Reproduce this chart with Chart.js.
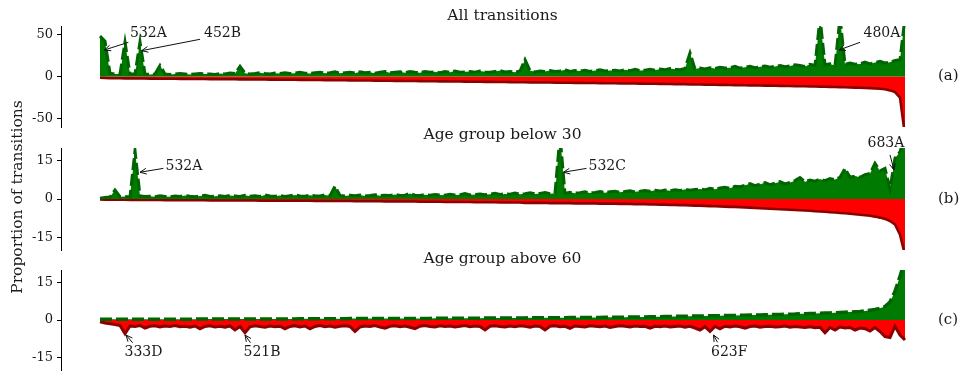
<!DOCTYPE html>
<html><head><meta charset="utf-8">
<script src="https://cdn.jsdelivr.net/npm/chart.js@4.4.0/dist/chart.umd.min.js"></script>
<style>
html,body{margin:0;padding:0;background:#fff;}
#wrap{position:relative;width:961px;height:373px;overflow:hidden;}
#wrap canvas{position:absolute;left:0;top:0;}
</style></head><body>
<div id="wrap">
<canvas id="ca" width="961" height="373"></canvas>
<canvas id="cb" width="961" height="373"></canvas>
<canvas id="cc" width="961" height="385"></canvas>
</div>
<script>
// ---- data (one value per transition, ordered as in the figure) ----
const GA = [48,42,4,3,3,41,3,3,41,3,
 2.5,3,13,3,2.5,3,3.5,3,2.5,3,
 3.5,3,3,2.5,3.5,3,4,3.5,12,4,
 3,3.5,4.5,3.5,3,4,3.5,4.5,3.5,4,
 5,4,3.5,4.5,5,4,4.5,5.5,4,4.5,
 5,4,5.5,4.5,5,4,5,6,4.5,5,
 5.5,4.5,6,5,4.5,6,5,5.5,4.5,6,
 5,6.5,5,5.5,6,5,6.5,5.5,5,6,
 7,5.5,6,5,6.5,20,7,5.5,6.5,6,
 7,6,6.5,8,6,7,6.5,7.5,6,7,
 8,6.5,7,7.5,6.5,8,7,8.5,7,7.5,
 8.5,7.5,9,8,9.5,8.5,8,9.5,28,9,
 10,9,10.5,9.5,11,10,10.5,12,10,11,
 12,10.5,11.5,12.5,11,12,13,11.5,12.5,14,
 13,12,14.5,13,70,14,15,13,70,14.5,
 16,14.5,15,17,15,16.5,18,16,17,19,
 20,70];
const RA = [-1.5,-1.8,-2,-2,-2.1,-2.2,-2.2,-2.3,-2.4,-2.4,
 -2.5,-2.5,-2.6,-2.6,-2.7,-2.7,-2.8,-2.8,-2.9,-2.9,
 -3,-3,-3.1,-3.1,-3.2,-3.2,-3.3,-3.3,-3.4,-3.4,
 -3.5,-3.5,-3.6,-3.6,-3.7,-3.7,-3.8,-3.8,-3.9,-3.9,
 -4,-4,-4.1,-4.1,-4.2,-4.3,-4.3,-4.4,-4.5,-4.5,
 -4.6,-4.6,-4.7,-4.8,-4.8,-4.9,-5,-5,-5.1,-5.2,
 -5.2,-5.3,-5.4,-5.4,-5.5,-5.6,-5.6,-5.7,-5.8,-5.8,
 -5.9,-6,-6,-6.1,-6.2,-6.2,-6.3,-6.4,-6.4,-6.5,
 -6.6,-6.6,-6.7,-6.8,-6.8,-6.9,-7,-7,-7.1,-7.2,
 -7.2,-7.3,-7.4,-7.4,-7.5,-7.6,-7.6,-7.7,-7.8,-7.8,
 -7.9,-8,-8,-8.1,-8.2,-8.3,-8.3,-8.4,-8.5,-8.6,
 -8.6,-8.7,-8.8,-8.9,-9,-9,-9.1,-9.2,-9.3,-9.4,
 -9.5,-9.6,-9.7,-9.8,-9.9,-10,-10.1,-10.2,-10.3,-10.4,
 -10.5,-10.6,-10.7,-10.8,-10.9,-11,-11.1,-11.2,-11.3,-11.4,
 -11.5,-11.6,-11.8,-11.9,-12,-12.2,-12.3,-12.5,-12.6,-12.8,
 -13,-13.2,-13.4,-13.6,-13.8,-14.1,-14.5,-15.2,-16.5,-18.5,
 -25,-70];
const GB = [0.3,0.6,0.8,3.5,0.9,1,0.8,19,1.2,1,
 1.1,0.9,1.3,1,0.9,1.2,1,1.4,1.1,0.9,
 1.2,1.5,1,1.1,1.3,1,1.4,1.2,1,1.5,
 1.1,1.3,1,1.6,1.2,1.1,1.4,1,1.3,1.6,
 1.2,1.1,1.5,1.3,1.2,1.6,1.3,5,1.4,1.2,
 1.5,1.3,1.6,1.2,1.4,1.7,1.3,1.5,1.4,1.8,
 1.4,1.5,2.2,1.5,1.4,1.7,1.5,1.8,1.6,1.5,
 1.9,1.6,1.7,2.1,1.6,1.8,2,1.7,1.9,2.2,
 1.8,2,1.9,2.3,1.9,2.1,2.4,2,2.2,2.5,
 2.1,2.3,25,2.2,2.6,2.3,2.5,2.8,2.4,2.6,
 2.9,2.5,2.8,3,2.6,2.9,3.2,2.8,3,3.3,
 3,3.4,3.1,3.5,3.2,3.6,3.3,3.8,3.4,3.7,
 3.9,3.6,4.2,3.8,4.3,4.6,4.2,5,4.8,5.4,
 6,5.2,5.8,6.4,5.6,6.2,6.8,5.9,6.5,7.2,
 8.4,6.8,7.4,7,7.8,7.2,8,7.6,8.5,12,
 8.5,9,8.5,9.5,10,14,11,12,4,16,
 18.5,25];
const RB = [-0.2,-0.3,-0.3,-0.3,-0.3,-0.3,-0.4,-0.4,-0.4,-0.4,
 -0.4,-0.4,-0.4,-0.5,-0.5,-0.5,-0.5,-0.5,-0.5,-0.5,
 -0.5,-0.5,-0.6,-0.6,-0.6,-0.6,-0.6,-0.6,-0.6,-0.6,
 -0.6,-0.6,-0.7,-0.7,-0.7,-0.7,-0.7,-0.7,-0.7,-0.7,
 -0.7,-0.7,-0.7,-0.8,-0.8,-0.8,-0.8,-0.8,-0.8,-0.8,
 -0.8,-0.9,-0.9,-0.9,-0.9,-0.9,-0.9,-1,-1,-1,
 -1,-1,-1,-1,-1.1,-1.1,-1.1,-1.1,-1.1,-1.2,
 -1.2,-1.2,-1.2,-1.2,-1.2,-1.3,-1.3,-1.3,-1.3,-1.3,
 -1.4,-1.4,-1.4,-1.4,-1.4,-1.5,-1.5,-1.5,-1.5,-1.5,
 -1.6,-1.6,-1.6,-1.6,-1.6,-1.7,-1.7,-1.7,-1.7,-1.7,
 -1.8,-1.8,-1.8,-1.8,-1.9,-1.9,-1.9,-2,-2,-2,
 -2.1,-2.1,-2.2,-2.2,-2.3,-2.3,-2.4,-2.4,-2.5,-2.6,
 -2.6,-2.7,-2.8,-2.8,-2.9,-3,-3.1,-3.1,-3.2,-3.3,
 -3.4,-3.5,-3.6,-3.7,-3.8,-3.9,-4,-4.1,-4.2,-4.3,
 -4.4,-4.5,-4.6,-4.8,-4.9,-5,-5.2,-5.3,-5.5,-5.6,
 -5.8,-6,-6.2,-6.4,-6.6,-6.9,-7.3,-7.8,-8.6,-10,
 -14,-22];
const GC = [0.3,0.3,0.3,0.3,0.3,0.3,0.3,0.3,0.3,0.3,
 0.3,0.35,0.35,0.35,0.35,0.35,0.35,0.35,0.35,0.35,
 0.4,0.4,0.4,0.4,0.4,0.4,0.4,0.4,0.4,0.4,
 0.45,0.45,0.45,0.45,0.45,0.45,0.45,0.45,0.45,0.45,
 0.5,0.5,0.5,0.5,0.5,0.55,0.55,0.55,0.55,0.55,
 0.6,0.6,0.6,0.6,0.6,0.6,0.6,0.6,0.6,0.6,
 0.6,0.6,0.65,0.65,0.65,0.65,0.65,0.7,0.7,0.7,
 0.7,0.7,0.7,0.75,0.75,0.75,0.75,0.8,0.8,0.8,
 0.8,0.8,0.85,0.85,0.85,0.85,0.9,0.9,0.9,0.9,
 0.9,0.95,0.95,0.95,1,1,1,1,1.05,1.05,
 1.05,1.1,1.1,1.1,1.15,1.15,1.2,1.2,1.25,1.25,
 1.3,1.3,1.35,1.4,1.4,1.45,1.5,1.5,1.55,1.6,
 1.6,1.65,1.7,1.7,1.75,1.8,1.8,1.85,1.9,1.95,
 2,2,2.05,2.1,2.15,2.2,2.25,2.3,2.35,2.4,
 2.5,2.55,2.6,2.65,2.7,2.8,2.85,2.9,3,3.1,
 3.2,3.3,3.4,3.6,3.9,4.2,4.7,5.4,7.2,11.5,
 17.5,24];
const RC = [-0.7,-1.2,-1.5,-1.8,-2.2,-5.5,-2.4,-2.6,-2.2,-3.2,
 -2.5,-2.3,-2.8,-2.4,-2.6,-2.2,-2.7,-2.5,-2.9,-2.4,
 -3.5,-2.6,-2.3,-2.8,-2.5,-2.9,-2.4,-4,-2.6,-5.1,
 -2.7,-2.3,-2.6,-2.9,-2.4,-2.7,-2.5,-3.5,-2.6,-2.3,
 -2.8,-2.4,-3.5,-2.6,-2.2,-2.7,-2.4,-2.9,-2.5,-2.3,
 -2.6,-4.6,-2.8,-2.4,-2.6,-2.2,-2.8,-3.3,-2.5,-2.3,
 -2.7,-2.4,-2.9,-3.5,-2.5,-2.2,-2.6,-2.8,-2.3,-2.6,
 -2.4,-2.8,-2.5,-2.2,-2.7,-2.4,-2.6,-4,-2.5,-2.3,
 -2.6,-2.8,-2.4,-2.7,-2.3,-2.5,-2.9,-2.4,-2.6,-4,
 -2.5,-2.3,-2.7,-2.5,-3.3,-2.4,-2.6,-2.8,-2.3,-2.5,
 -2.7,-2.4,-3,-2.6,-2.3,-2.5,-2.8,-2.4,-2.6,-2.5,
 -3.3,-2.5,-2.7,-2.4,-2.8,-2.6,-2.4,-2.9,-2.5,-3.2,
 -4,-2.7,-4.6,-2.6,-3.5,-2.5,-2.8,-2.4,-2.7,-3.3,
 -2.6,-2.4,-2.9,-2.6,-2.5,-2.8,-2.7,-2.4,-2.9,-2.6,
 -2.8,-3,-2.7,-3.1,-2.9,-5.1,-3,-4,-2.8,-3.2,
 -3,-4,-3.2,-3.5,-4.4,-3,-4.6,-6.6,-7,-2.5,
 -6,-8];

const TICKS_A = [-50, 0, 50];
const TICKS_BC = [-15, 0, 15];
const TITLES = ['All transitions', 'Age group below 30', 'Age group above 60'];
const PANEL_LABELS = ['(a)', '(b)', '(c)'];
const Y_TITLE = 'Proportion of transitions';

// annotations: label, text anchor (index, value), arrow tail, arrow head (index, value)
const ANN_A = [
  {label:'532A', tx:6.0,  ty:50.7, sx:5.67, sy:40.6, hx:0.87,  hy:31.5},
  {label:'452B', tx:20.8, ty:50.7, sx:20.0, sy:44.2, hx:8.33,  hy:30.7},
  {label:'480A', tx:152.7,ty:50.7, sx:152.0,sy:40.6, hx:147.8, hy:31.5}
];
const ANN_B = [
  {label:'532A', tx:13.1, ty:12.7, sx:12.67,sy:12.0, hx:8.0,   hy:10.5},
  {label:'532C', tx:97.7, ty:12.7, sx:97.3, sy:12.0, hx:92.7,  hy:10.5},
  {label:'683A', tx:153.5,ty:21.8, sx:158.0,sy:17.3, hx:158.8, hy:11.4}
];
const ANN_C = [
  {label:'333D', tx:4.9,  ty:-13.1, sx:6.53, sy:-9.1, hx:5.2,   hy:-6},
  {label:'521B', tx:28.7, ty:-13.1, sx:30.1, sy:-9.1, hx:29.0,  hy:-6},
  {label:'623F', tx:122.2,ty:-13.0, sx:123.5,sy:-8.9, hx:122.7, hy:-6}
];

// ---- drawing ----
const SERIF = '"DejaVu Serif", "Liberation Serif", serif';
const TXT = '#1a1a1a';

const decor = {
  id: 'decor',
  afterDatasetsDraw(chart, args, o) {
    const {ctx, chartArea, scales} = chart;
    const x = scales.x, y = scales.y;
    ctx.save();
    ctx.fillStyle = TXT;
    ctx.font = '15.5px ' + SERIF;
    ctx.textAlign = 'center';
    ctx.textBaseline = 'alphabetic';
    const cx = (x.getPixelForValue(0) + x.getPixelForValue(o.n - 1)) / 2;
    ctx.fillText(o.title, cx, chartArea.top - o.titleGap);
    ctx.font = '15px ' + SERIF;
    ctx.textAlign = 'left';
    ctx.textBaseline = 'middle';
    ctx.fillText(o.label, chartArea.right + 28, y.getPixelForValue(0));
    ctx.font = '14px ' + SERIF;
    ctx.strokeStyle = '#111';
    ctx.lineWidth = 1;
    for (const a of o.anns) {
      ctx.fillText(a.label, x.getPixelForValue(a.tx), y.getPixelForValue(a.ty));
      const sx = x.getPixelForValue(a.sx), sy = y.getPixelForValue(a.sy);
      const hx = x.getPixelForValue(a.hx), hy = y.getPixelForValue(a.hy);
      ctx.beginPath(); ctx.moveTo(sx, sy); ctx.lineTo(hx, hy); ctx.stroke();
      const ang = Math.atan2(hy - sy, hx - sx), L = 7, w = 0.42;
      ctx.beginPath();
      ctx.moveTo(hx - L * Math.cos(ang - w), hy - L * Math.sin(ang - w));
      ctx.lineTo(hx, hy);
      ctx.lineTo(hx - L * Math.cos(ang + w), hy - L * Math.sin(ang + w));
      ctx.stroke();
    }
    if (o.ytitle) {
      ctx.font = '15.5px ' + SERIF;
      ctx.textAlign = 'center';
      ctx.textBaseline = 'middle';
      ctx.translate(18, 197);
      ctx.rotate(-Math.PI / 2);
      ctx.fillText(o.ytitle, 0, 0);
    }
    ctx.restore();
  }
};

function makePanel(id, green, red, lim, ticks, padTop, padBottom, title, titleGap, label, anns, ytitle, gw, rw) {
  const pts = arr => arr.map((v, i) => ({x: i, y: v}));
  return new Chart(document.getElementById(id), {
    type: 'line',
    data: {
      datasets: [
        {data: pts(green), borderColor: '#006400', backgroundColor: '#007a00', borderWidth: gw,
         borderDash: [12, 4], fill: 'origin', pointRadius: 0, tension: 0},
        {data: pts(red), borderColor: '#8b0000', backgroundColor: '#ff0000', borderWidth: rw,
         fill: 'origin', pointRadius: 0, tension: 0}
      ]
    },
    options: {
      responsive: false,
      animation: false,
      devicePixelRatio: 1,
      layout: {padding: {left: 0, right: 51, top: padTop, bottom: padBottom}},
      plugins: {
        legend: {display: false},
        tooltip: {enabled: false},
        decor: {n: green.length, title, titleGap, label, anns, ytitle}
      },
      scales: {
        x: {type: 'linear', display: false, min: -7.8, max: green.length},
        y: {
          type: 'linear', min: -lim, max: lim,
          afterFit: s => { s.width = 61; },
          afterBuildTicks: s => { s.ticks = ticks.map(v => ({value: v})); },
          border: {display: true, color: '#000', width: 1},
          grid: {display: true, drawOnChartArea: false, drawTicks: true, tickLength: 4, color: '#000'},
          ticks: {color: TXT, padding: 4, font: {family: SERIF, size: 13}}
        }
      }
    },
    plugins: [decor]
  });
}

makePanel('ca', GA, RA, 60, TICKS_A, 26, 373 - 127, TITLES[0], 6, PANEL_LABELS[0], ANN_A, null, 3, 2.6);
makePanel('cb', GB, RB, 20, TICKS_BC, 148, 373 - 250, TITLES[1], 9.5, PANEL_LABELS[1], ANN_B, Y_TITLE, 3, 2.6);
makePanel('cc', GC, RC, 20, TICKS_BC, 270, 385 - 370, TITLES[2], 7, PANEL_LABELS[2], ANN_C, null, 3.5, 3);
</script>
</body></html>
